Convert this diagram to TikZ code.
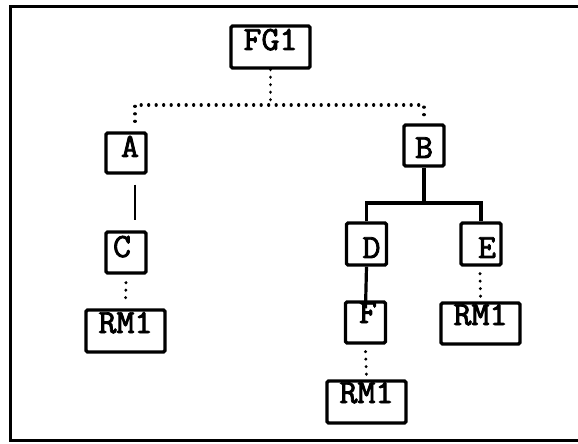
\documentclass[tikz,border=0pt]{standalone}
\usepackage{fontspec}
\newfontfamily\boxfont[FakeBold=2.5, FakeStretch=1.03]{Latin Modern Mono}
\usetikzlibrary{calc}

\tikzset{
  box/.style={draw, line width=3.2bp, rounded corners=1.5bp, inner sep=0pt,
    font=\boxfont\fontsize{34}{34}\selectfont},
  wide/.style={box, minimum width=79bp},
  narrow/.style={box, minimum width=40bp},
  th/.style 2 args={text height=#1bp, text depth=#2bp},
  dotline/.style={line width=3.2bp, line cap=round, dash pattern=on 0.1bp off 7.4bp},
  heavy/.style={line width=3.2bp},
  light/.style={line width=2bp}
}

\begin{document}
\begin{tikzpicture}[x=1bp, y=-1bp]
  \useasboundingbox (0,0) rectangle (578,444);

  % outer frame (right side runs off the page)
  \draw[line width=3bp] (578,7) -- (10,7) -- (10,440) -- (578,440);

  % nodes
  \node[wide, th={24}{18}]   (fg)  at (270.5,47)  {FG1};
  \node[narrow, th={24}{16}] (A)   at (126,153)   {\kern8bp A};
  \node[narrow, th={25}{16}] (C)   at (126,252.5) {C\kern8bp};
  \node[wide, th={23}{19}]   (rmc) at (125.5,331) {RM1};
  \node[narrow, th={33}{8}]  (B)   at (424,145.5) {B};
  \node[narrow, th={35}{7}]  (D)   at (366.5,244) {\kern10bp D};
  \node[narrow, th={35}{7}]  (E)   at (481,244)   {\kern12bp E};
  \node[narrow, th={21}{20}] (F)   at (365.5,322.5) {\kern5bp F};
  \node[wide, th={22}{19}]   (rme) at (480.5,323.5) {RM1};
  \node[wide, th={22}{20}]   (rmf) at (366.5,402) {RM1};

  % junction points
  \coordinate (j1) at (270.5,105);
  \coordinate (j2) at (424,203);

  % dotted links from FG1
  \draw[dotline] (fg.south) -- (j1);
  \draw[dotline] ($(A.north)+(9,-10)$) |- (j1) -| ($(B.north)+(0,-2)$);

  % A -- C
  \draw[light] ($(A.south)+(9,10)$) -- ($(C.north)+(9,-10)$);

  % C -- RM1
  \draw[dotline] ($(C.south)+(0,8)$) -- ($(rmc.north)+(0,-5)$);

  % B tree
  \draw[heavy] (B.south) -- (j2);
  \draw[heavy] (D.north) |- (j2) -| (E.north);
  \draw[heavy] (D.south) -- ($(F.north)+(0,8)$);

  % dotted links to RM1
  \draw[dotline] ($(F.south)+(0,7)$) -- ($(rmf.north)+(0,-4)$);
  \draw[dotline] ($(E.south)+(-1,7)$) -- ($(rme.north)+(0,-5)$);
\end{tikzpicture}
\end{document}
